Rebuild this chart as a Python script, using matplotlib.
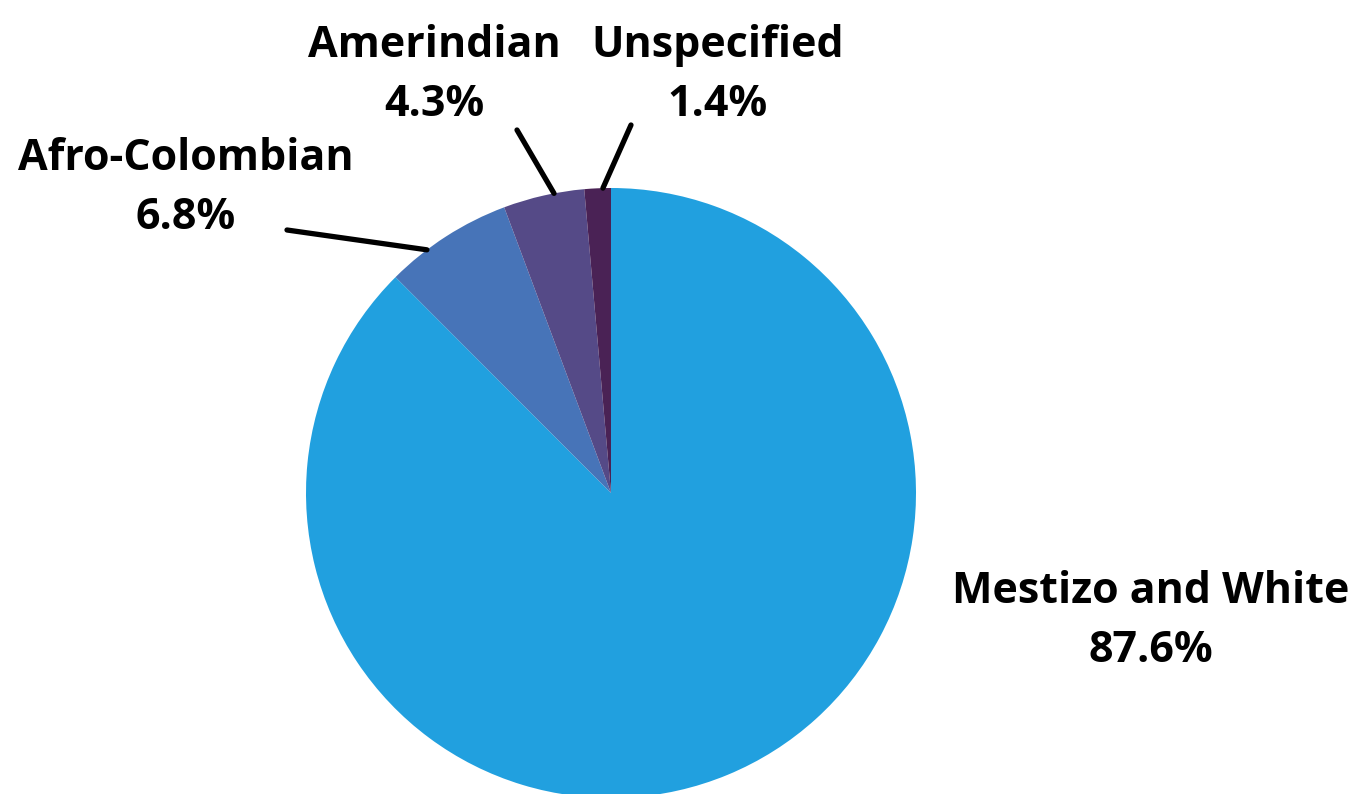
import numpy as np
import matplotlib.pyplot as plt

# data
groups = ["Mestizo and White", "Afro-Colombian", "Amerindian", "Unspecified"]
shares = [87.6, 6.8, 4.3, 1.4]
colors = ["#21A0DF", "#4774B8", "#554A87", "#4A2255"]

# label layout (pixel coords, y from top) and leader line start points
label_pos = [(1151, 621), (186, 188), (434, 75), (718, 75)]
line_start = [None, (287, 230), (517, 130), (631, 125)]
angle_nudge = [0, 4.4, -2.0, -1.0]

plt.rcParams['font.family'] = ['Open Sans', 'DejaVu Sans']

W, H = 1355, 794
fig = plt.figure(figsize=(W / 100, H / 100), dpi=100)
ax = fig.add_axes([0, 0, 1, 1])

cx, cy, r = 611, H - 493, 305
wedges, _ = ax.pie(shares, colors=colors, startangle=90, counterclock=False,
                   center=(cx, cy), radius=r, frame=True,
                   wedgeprops=dict(linewidth=0))
ax.set_xlim(0, W)
ax.set_ylim(0, H)
ax.axis('off')

for i, w in enumerate(wedges):
    lx, ly = label_pos[i]
    ax.text(lx, H - ly, f"{groups[i]}\n{shares[i]:.1f}%", ha='center', va='center',
            fontsize=31, fontweight='bold', color='black', linespacing=1.5)
    if line_start[i] is not None:
        ang = np.deg2rad((w.theta1 + w.theta2) / 2 + angle_nudge[i])
        ex, ey = cx + r * np.cos(ang), cy + r * np.sin(ang)
        sx, sy = line_start[i]
        ax.plot([sx, ex], [H - sy, ey], color='black', lw=3.8,
                solid_capstyle='round', zorder=5)

fig.savefig("out.png", dpi=100)
